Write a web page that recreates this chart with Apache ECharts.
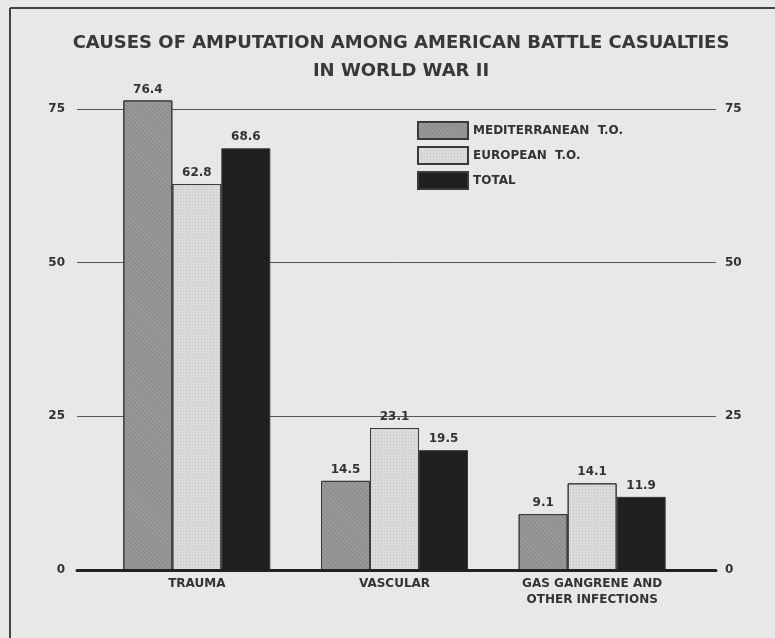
<!DOCTYPE html>
<html>
<head>
<meta charset="utf-8">
<script src="https://cdn.jsdelivr.net/npm/echarts@6/dist/echarts.min.js"></script>
<style>
html,body{margin:0;padding:0;background:#e8e8e6;}
#chart{width:775px;height:638px;}
</style>
</head>
<body>
<div id="chart"></div>
<script>
const categories = ['TRAUMA', 'VASCULAR', 'GAS GANGRENE AND\nOTHER INFECTIONS'];
const mediterranean = [76.4, 14.5, 9.1];
const european = [62.8, 23.1, 14.1];
const total = [68.6, 19.5, 11.9];
const seriesNames = ['MEDITERRANEAN  T.O.', 'EUROPEAN  T.O.', 'TOTAL'];
const yTicks = [0, 25, 50, 75];

const FONT = 'DejaVu Sans';
const INK = '#333333';

const chart = echarts.init(document.getElementById('chart'), null, {renderer: 'canvas'});

function barSeries(name, data, color, decal) {
  return {
    name: name, type: 'bar', xAxisIndex: 1, yAxisIndex: 2,
    data: data, barWidth: 49, barGap: '0%', clip: false,
    itemStyle: {color: color, borderColor: '#3a3a3a', borderWidth: 1, decal: decal},
    label: {show: true, position: 'top', distance: 5, color: INK,
      fontFamily: FONT, fontSize: 12, fontWeight: 'bold',
      formatter: p => p.value.toFixed(1)}
  };
}

const option = {
  backgroundColor: '#e8e8e6',
  animation: false,
  title: {
    text: 'CAUSES OF AMPUTATION AMONG AMERICAN BATTLE CASUALTIES\nIN WORLD WAR II',
    left: 396, textAlign: 'center', top: 24,
    textStyle: {fontFamily: FONT, fontSize: 18, fontWeight: 'bold', color: '#383838', lineHeight: 28, align: 'center'}
  },
  legend: {
    orient: 'vertical', left: 417, top: 121, itemWidth: 50, itemHeight: 17, itemGap: 6,
    padding: 0, icon: 'rect',
    textStyle: {fontFamily: FONT, fontSize: 12, fontWeight: 'bold', color: INK},
    data: seriesNames
  },
  grid: [
    {left: 77, right: 59, top: 109, bottom: 68},
    {left: 98, right: 84, top: 109, bottom: 68}
  ],
  xAxis: [
    {gridIndex: 0, type: 'category', data: [''], axisTick: {show: false}, axisLabel: {show: false},
     axisLine: {show: true, lineStyle: {color: '#222', width: 3}}, z: 5},
    {gridIndex: 1, type: 'category', data: categories, axisTick: {show: false}, axisLine: {show: false},
     axisLabel: {color: INK, fontFamily: FONT, fontSize: 12, fontWeight: 'bold', margin: 6, lineHeight: 16}}
  ],
  yAxis: [
    {gridIndex: 0, type: 'value', min: 0, max: 75, interval: 25, position: 'left',
     axisLine: {show: false}, axisTick: {show: false},
     axisLabel: {color: INK, fontFamily: FONT, fontSize: 12, fontWeight: 'bold', margin: 12},
     splitLine: {show: true, lineStyle: {color: '#555', width: 1}}},
    {gridIndex: 0, type: 'value', min: 0, max: 75, interval: 25, position: 'right',
     axisLine: {show: false}, axisTick: {show: false},
     axisLabel: {color: INK, fontFamily: FONT, fontSize: 12, fontWeight: 'bold', margin: 9},
     splitLine: {show: false}},
    {gridIndex: 1, type: 'value', min: 0, max: 75, interval: 25, show: false}
  ],
  series: [
    barSeries(seriesNames[0], mediterranean, '#9a9a98',
      {symbol: 'rect', symbolSize: 1, dashArrayX: [1, 0], dashArrayY: [1, 2], rotation: Math.PI / 4, color: 'rgba(0,0,0,0.12)'}),
    barSeries(seriesNames[1], european, '#dadad8',
      {symbol: 'rect', symbolSize: 1, dashArrayX: [1, 2], dashArrayY: [1, 2], rotation: 0, color: 'rgba(0,0,0,0.10)'}),
    barSeries(seriesNames[2], total, '#1f1f1f', null)
  ],
  graphic: [
    {type: 'line', shape: {x1: 10, y1: 8, x2: 10, y2: 638}, style: {stroke: '#444', lineWidth: 2}},
    {type: 'line', shape: {x1: 10, y1: 8, x2: 775, y2: 8}, style: {stroke: '#444', lineWidth: 2}}
  ]
};
chart.setOption(option);
</script>
</body>
</html>
